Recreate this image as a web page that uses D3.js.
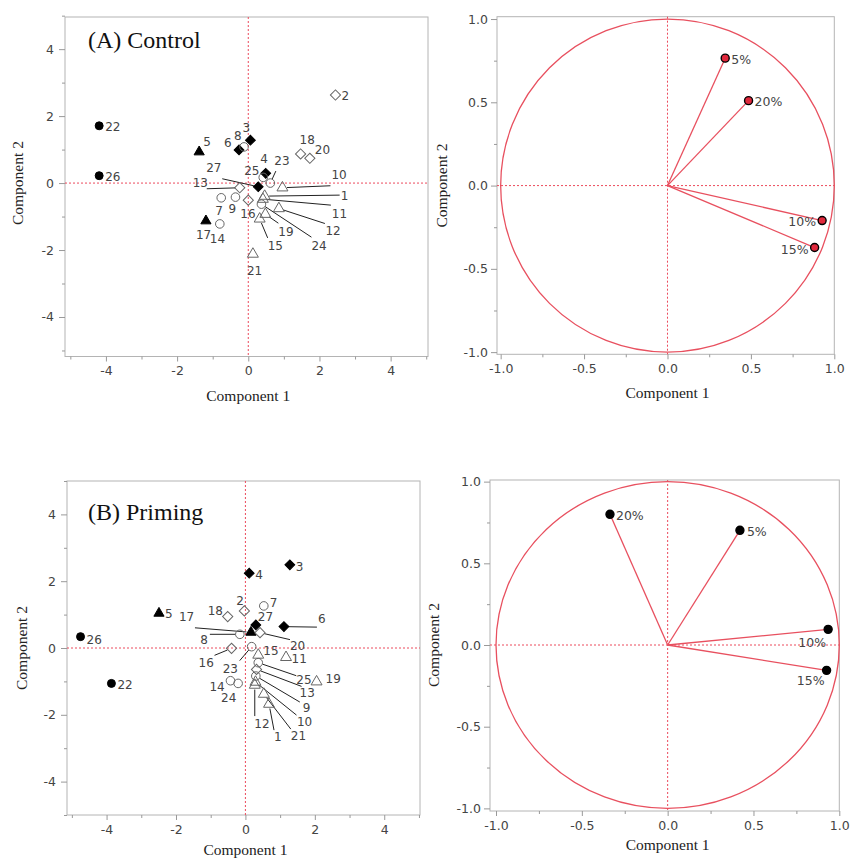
<!DOCTYPE html>
<meta charset="utf-8">
<style>
body { margin: 0; background: #fff; }
text { font-family: "DejaVu Sans", sans-serif; fill: #444; }
.axis text { font-size: 12.5px; }
.axis-title { font-family: "Liberation Serif", serif; font-size: 15.5px; fill: #222; }
.panel-title { font-family: "Liberation Serif", serif; font-size: 24px; fill: #111; }
.frame { fill: none; stroke: #b4b4b4; }
.tick line { stroke: #999; }
.zero { stroke: #ec4a5c; stroke-dasharray: 2,2; stroke-width: 1; }
.leader { stroke: #222; stroke-width: 1; }
.unit-circle { fill: none; stroke: #e8505f; stroke-width: 1.3; }
.arrow { stroke: #e8505f; stroke-width: 1.3; }
.pt-label { font-size: 12px; fill: #444; }
.load-label { font-size: 12.5px; fill: #444; }
</style>
<svg width="852" height="859"></svg>
<script src="https://d3js.org/d3.v7.min.js"></script>
<script>

// sample ids and the marker group of each one (same in both treatments)
var sampleIds = [1, 2, 3, 4, 5, 6, 7, 8, 9, 10, 11, 12, 13, 14, 15, 16, 17, 18, 19, 20, 21, 22, 23, 24, 25, 26, 27];
var markerGroup = ["openTri", "openDia", "fillDia", "fillDia", "fillTri", "fillDia", "openCirc", "openCirc", "openCirc",
  "openTri", "openTri", "openTri", "openDia", "openCirc", "openTri", "openDia", "fillTri", "openDia", "openTri",
  "openDia", "openTri", "fillCirc", "openCirc", "openCirc", "openCirc", "fillCirc", "fillDia"];

// (A) Control scores
var controlPC1 = [0.46, 2.45, 0.06, 0.49, -1.38, -0.26, -0.76, -0.12, -0.36, 0.96, 0.41, 0.86, -0.24, -0.80,
  0.32, 0.00, -1.19, 1.47, 0.48, 1.73, 0.13, -4.19, 0.62, 0.37, 0.42, -4.19, 0.28];
var controlPC2 = [-0.39, 2.63, 1.28, 0.29, 0.93, 0.99, -0.44, 1.08, -0.42, -0.14, -0.48, -0.76, -0.14, -1.22,
  -1.07, -0.51, -1.13, 0.87, -0.93, 0.74, -2.12, 1.71, 0.00, -0.63, 0.17, 0.22, -0.11];

// (B) Priming scores
var primingPC1 = [0.68, -0.03, 1.28, 0.11, -2.49, 1.11, 0.53, -0.16, 0.30, 0.29, 1.17, 0.27, 0.32, -0.43,
  0.37, -0.40, 0.16, -0.51, 2.05, 0.42, 0.53, -3.86, 0.18, -0.21, 0.37, -4.75, 0.30];
var primingPC2 = [-1.68, 1.11, 2.49, 2.24, 1.04, 0.64, 1.26, 0.41, -0.84, -1.02, -0.28, -1.11, -0.64, -0.98,
  -0.21, -0.01, 0.47, 0.94, -1.01, 0.46, -1.38, -1.06, 0.04, -1.06, -0.44, 0.34, 0.69];

// loadings
var loadingNames = ["5%", "10%", "15%", "20%"];
var controlLoad1 = [0.346, 0.927, 0.882, 0.486];
var controlLoad2 = [0.765, -0.21, -0.372, 0.51];
var primingLoad1 = [0.421, 0.935, 0.926, -0.336];
var primingLoad2 = [0.702, 0.096, -0.155, 0.80];

// tick labels
var scoreTicks = [-4, -2, 0, 2, 4];
var scoreMinor = [-5, -3, -1, 1, 3, 5];
var loadTicks = [-1.0, -0.5, 0.0, 0.5, 1.0];
var loadMinor = [-0.75, -0.25, 0.25, 0.75];

// label placement (pixels from marker): [dx, dy, leaderX, leaderY]
var labelPosA = {
  1: [76, 3.5, 75, -1], 2: [6, 5], 3: [-8, -8], 4: [-5.5, -10], 5: [4, -6], 6: [-15, -3], 7: [-6, 17],
  8: [-10, -7], 9: [-7, 16], 10: [49, -9, 48, -2], 11: [69, 19, 68, 6], 12: [46.5, 26, 46, 15],
  13: [-47, -1, -33, 1], 14: [-10, 19], 15: [8, 31, 8, 19], 16: [-8, 18], 17: [-10, 18], 18: [-1, -9.5],
  19: [13, 22, 13, 9], 20: [5, -4], 21: [-6, 21], 22: [6, 5], 23: [4, -18.5, 5.5, -12],
  24: [50, 45.5, 50, 33], 25: [-19, -2], 26: [6, 5], 27: [-52, -15, -36, -8]
};
var labelPosB = {
  1: [5, 37, 5, 26], 2: [-8, -6], 3: [6, 6], 4: [6, 6], 5: [6, 5], 6: [34, -3.5, 33, 0.5], 7: [6, 1],
  8: [-39.5, 10, -30, 0], 9: [47, 35.5, 44, 26], 10: [41.5, 43.5, 41, 33], 11: [5.5, 6], 12: [-0.5, 43, 0, 31],
  13: [43, 28, 45, 17], 14: [-21, 10], 15: [5, 0], 16: [-33, 19, -17, 7], 17: [-72, -11, -56, -4.5],
  18: [-20, -2], 19: [9, 1], 20: [30, 17, 30, 7], 21: [27, 46, 27, 35], 22: [6, 6],
  23: [-29, 26, -12, 14], 24: [-17, 19], 25: [38, 21.5, 38, 13], 26: [6, 7], 27: [2, -4]
};
var loadLabelC = { "5%": [6, 5.5, "start"], "20%": [6, 5.5, "start"], "10%": [-6, 5.5, "end"], "15%": [-6, 6, "end"] };
var loadLabelD = { "5%": [7, 6, "start"], "20%": [6, 6, "start"], "10%": [-2, 18, "end"], "15%": [-2, 15, "end"] };

var svg = d3.select("svg");

var shapes = {
  fillCirc: { type: d3.symbolCircle, size: 50, fill: "#000", stroke: "#000", rot: 0 },
  fillTri: { type: d3.symbolTriangle, size: 45, fill: "#000", stroke: "#000", rot: 0 },
  fillDia: { type: d3.symbolSquare, size: 48, fill: "#000", stroke: "#000", rot: 45 },
  openCirc: { type: d3.symbolCircle, size: 58, fill: "none", stroke: "#666", rot: 0 },
  openTri: { type: d3.symbolTriangle, size: 52, fill: "none", stroke: "#666", rot: 0 },
  openDia: { type: d3.symbolSquare, size: 52, fill: "none", stroke: "#666", rot: 45 }
};

function frameAndAxes(g, x, y, cfg, ticks, minor, fmt) {
  g.append("rect").attr("class", "frame")
    .attr("x", cfg.left).attr("y", cfg.top)
    .attr("width", cfg.right - cfg.left).attr("height", cfg.bottom - cfg.top);

  g.append("g").attr("class", "axis").attr("transform", "translate(0," + cfg.bottom + ")")
    .call(d3.axisBottom(x).tickValues(ticks).tickFormat(fmt).tickSize(5).tickPadding(5).tickSizeOuter(0))
    .call(function(a) { a.select(".domain").remove(); });
  g.append("g").attr("class", "axis").attr("transform", "translate(0," + cfg.bottom + ")")
    .call(d3.axisBottom(x).tickValues(minor).tickFormat("").tickSize(3).tickSizeOuter(0))
    .call(function(a) { a.select(".domain").remove(); });

  g.append("g").attr("class", "axis").attr("transform", "translate(" + cfg.left + ",0)")
    .call(d3.axisLeft(y).tickValues(ticks).tickFormat(fmt).tickSize(6).tickPadding(cfg.yPad).tickSizeOuter(0))
    .call(function(a) { a.select(".domain").remove(); });
  g.append("g").attr("class", "axis").attr("transform", "translate(" + cfg.left + ",0)")
    .call(d3.axisLeft(y).tickValues(minor).tickFormat("").tickSize(3).tickSizeOuter(0))
    .call(function(a) { a.select(".domain").remove(); });

  // dashed zero lines
  g.append("line").attr("class", "zero")
    .attr("x1", x(0)).attr("x2", x(0)).attr("y1", cfg.top).attr("y2", cfg.bottom);
  g.append("line").attr("class", "zero")
    .attr("x1", cfg.left).attr("x2", cfg.right).attr("y1", y(0)).attr("y2", y(0));

  g.append("text").attr("class", "axis-title")
    .attr("x", x(0)).attr("y", cfg.xTitleY)
    .attr("text-anchor", "middle").text("Component 1");
  g.append("text").attr("class", "axis-title")
    .attr("transform", "translate(" + cfg.yTitleX + "," + y(0) + ") rotate(-90)")
    .attr("text-anchor", "middle").text("Component 2");
}

function scorePanel(cfg, pc1, pc2, labelPos, title) {
  var g = svg.append("g");
  var x = d3.scaleLinear().domain(cfg.xDomain).range([cfg.left, cfg.right]);
  var y = d3.scaleLinear().domain(cfg.yDomain).range([cfg.bottom, cfg.top]);
  frameAndAxes(g, x, y, cfg, scoreTicks, scoreMinor, function(d) { return String(d); });

  var pts = sampleIds.map(function(id, i) {
    return { id: id, px: x(pc1[i]), py: y(pc2[i]), shape: shapes[markerGroup[i]], lab: labelPos[id] };
  });

  // leader lines, stopped at the marker edge
  g.append("g").selectAll("line")
    .data(pts.filter(function(d) { return d.lab.length > 2; }))
    .enter().append("line").attr("class", "leader")
    .attr("x1", function(d) { return d.px + d.lab[2]; })
    .attr("y1", function(d) { return d.py + d.lab[3]; })
    .attr("x2", function(d) {
      var len = Math.sqrt(d.lab[2] * d.lab[2] + d.lab[3] * d.lab[3]);
      return d.px + d.lab[2] * 4.5 / len;
    })
    .attr("y2", function(d) {
      var len = Math.sqrt(d.lab[2] * d.lab[2] + d.lab[3] * d.lab[3]);
      return d.py + d.lab[3] * 4.5 / len;
    });

  g.append("g").selectAll("path")
    .data(pts)
    .enter().append("path")
    .attr("transform", function(d) { return "translate(" + d.px + "," + d.py + ") rotate(" + d.shape.rot + ")"; })
    .attr("d", function(d) { return d3.symbol().type(d.shape.type).size(d.shape.size)(); })
    .attr("fill", function(d) { return d.shape.fill; })
    .attr("stroke", function(d) { return d.shape.stroke; })
    .attr("stroke-width", 1);

  g.append("g").selectAll("text")
    .data(pts)
    .enter().append("text").attr("class", "pt-label")
    .attr("x", function(d) { return d.px + d.lab[0]; })
    .attr("y", function(d) { return d.py + d.lab[1]; })
    .text(function(d) { return d.id; });

  g.append("text").attr("class", "panel-title")
    .attr("x", cfg.titleX).attr("y", cfg.titleY).text(title);
}

function loadingPanel(cfg, l1, l2, labelPos, markFill) {
  var g = svg.append("g");
  var x = d3.scaleLinear().domain(cfg.xDomain).range([cfg.left, cfg.right]);
  var y = d3.scaleLinear().domain(cfg.yDomain).range([cfg.bottom, cfg.top]);
  frameAndAxes(g, x, y, cfg, loadTicks, loadMinor, function(d) { return d.toFixed(1); });

  g.append("ellipse").attr("class", "unit-circle")
    .attr("cx", x(0)).attr("cy", y(0))
    .attr("rx", x(1) - x(0)).attr("ry", y(0) - y(1));

  var pts = loadingNames.map(function(name, i) {
    return { name: name, px: x(l1[i]), py: y(l2[i]), lab: labelPos[name] };
  });

  g.append("g").selectAll("line")
    .data(pts)
    .enter().append("line").attr("class", "arrow")
    .attr("x1", x(0)).attr("y1", y(0))
    .attr("x2", function(d) { return d.px; })
    .attr("y2", function(d) { return d.py; });

  g.append("g").selectAll("circle")
    .data(pts)
    .enter().append("circle")
    .attr("cx", function(d) { return d.px; })
    .attr("cy", function(d) { return d.py; })
    .attr("r", 4)
    .attr("fill", markFill)
    .attr("stroke", "#000")
    .attr("stroke-width", 1.4);

  g.append("g").selectAll("text")
    .data(pts)
    .enter().append("text").attr("class", "load-label")
    .attr("x", function(d) { return d.px + d.lab[0]; })
    .attr("y", function(d) { return d.py + d.lab[1]; })
    .attr("text-anchor", function(d) { return d.lab[2]; })
    .text(function(d) { return d.name; });
}

scorePanel({ left: 65, right: 428, top: 17, bottom: 356.5, xDomain: [-5.15, 5.05], yDomain: [-5.18, 4.96],
  yPad: 5, xTitleY: 401, yTitleX: 23, titleX: 88, titleY: 48 },
  controlPC1, controlPC2, labelPosA, "(A) Control");

scorePanel({ left: 67, right: 420, top: 481, bottom: 815, xDomain: [-5.14, 5.03], yDomain: [-5.0, 5.0],
  yPad: 5, xTitleY: 855, yTitleX: 27, titleX: 88, titleY: 520 },
  primingPC1, primingPC2, labelPosB, "(B) Priming");

loadingPanel({ left: 497, right: 834.3, top: 16.7, bottom: 354.3, xDomain: [-1.022, 1.0], yDomain: [-1.013, 1.014],
  yPad: 3, xTitleY: 398, yTitleX: 447 },
  controlLoad1, controlLoad2, loadLabelC, "#e0283c");

loadingPanel({ left: 490, right: 839.3, top: 480, bottom: 811, xDomain: [-1.035, 1.0], yDomain: [-1.016, 1.01],
  yPad: 3, xTitleY: 850, yTitleX: 439 },
  primingLoad1, primingLoad2, loadLabelD, "#000");

</script>
